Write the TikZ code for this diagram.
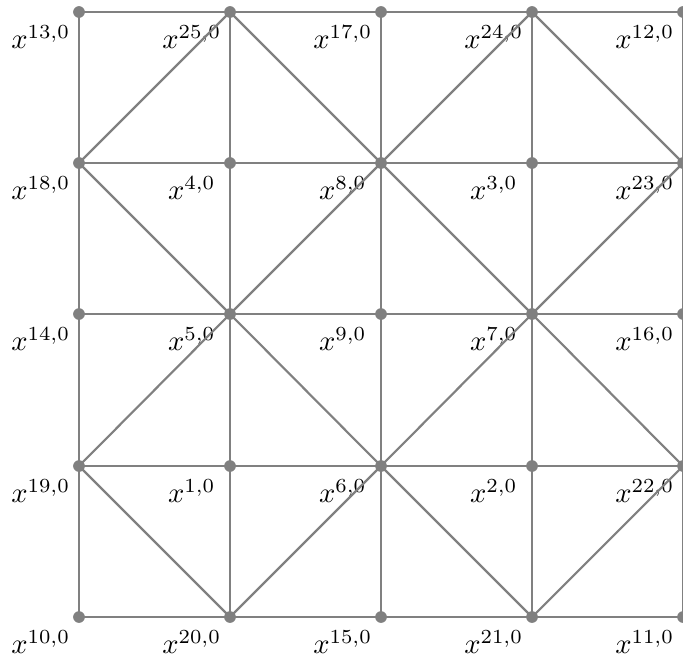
\documentclass[tikz,border=0pt]{standalone}
\begin{document}
\begin{tikzpicture}[x=0.35pt,y=-0.35pt,
  pt/.style={circle,fill=gray,inner sep=0pt,minimum size=4.1pt},
  edge/.style={draw=gray,line width=0.75pt},
  lbl/.style={inner sep=0pt,anchor=center}]
\useasboundingbox (0,0) rectangle (683,661);
% points
\foreach \i/\xx in {0/79,1/230,2/381,3/532,4/683}{
  \foreach \j/\yy in {0/12,1/163,2/314,3/466,4/617}{
    \coordinate (c-\i-\j) at (\xx,\yy);
  }
}
% labels
\foreach \i/\j/\n in {0/0/13,1/0/25,2/0/17,3/0/24,4/0/12,
  0/1/18,1/1/4,2/1/8,3/1/3,4/1/23,
  0/2/14,1/2/5,2/2/9,3/2/7,4/2/16,
  0/3/19,1/3/1,2/3/6,3/3/2,4/3/22,
  0/4/10,1/4/20,2/4/15,3/4/21,4/4/11}{
  \node[lbl] (l-\i-\j) at ([xshift=-13.4pt,yshift=-8.8pt]c-\i-\j) {$x^{\n,0}$};
}
% grid lines
\foreach \j in {0,...,4}{
  \draw[edge] (c-0-\j) -- (c-1-\j) -- (c-2-\j) -- (c-3-\j) -- (c-4-\j);
  \draw[edge] (c-\j-0) -- (c-\j-1) -- (c-\j-2) -- (c-\j-3) -- (c-\j-4);
}
% diagonals (diamonds)
\draw[edge] (c-0-1) -- (c-1-0) -- (c-2-1) -- (c-3-0) -- (c-4-1);
\draw[edge] (c-0-1) -- (c-1-2) -- (c-2-1) -- (c-3-2) -- (c-4-1);
\draw[edge] (c-0-3) -- (c-1-2) -- (c-2-3) -- (c-3-2) -- (c-4-3);
\draw[edge] (c-0-3) -- (c-1-4) -- (c-2-3) -- (c-3-4) -- (c-4-3);
% dots
\foreach \i in {0,...,4}{
  \foreach \j in {0,...,4}{
    \node[pt] (p-\i-\j) at (c-\i-\j) {};
  }
}
\end{tikzpicture}
\end{document}
